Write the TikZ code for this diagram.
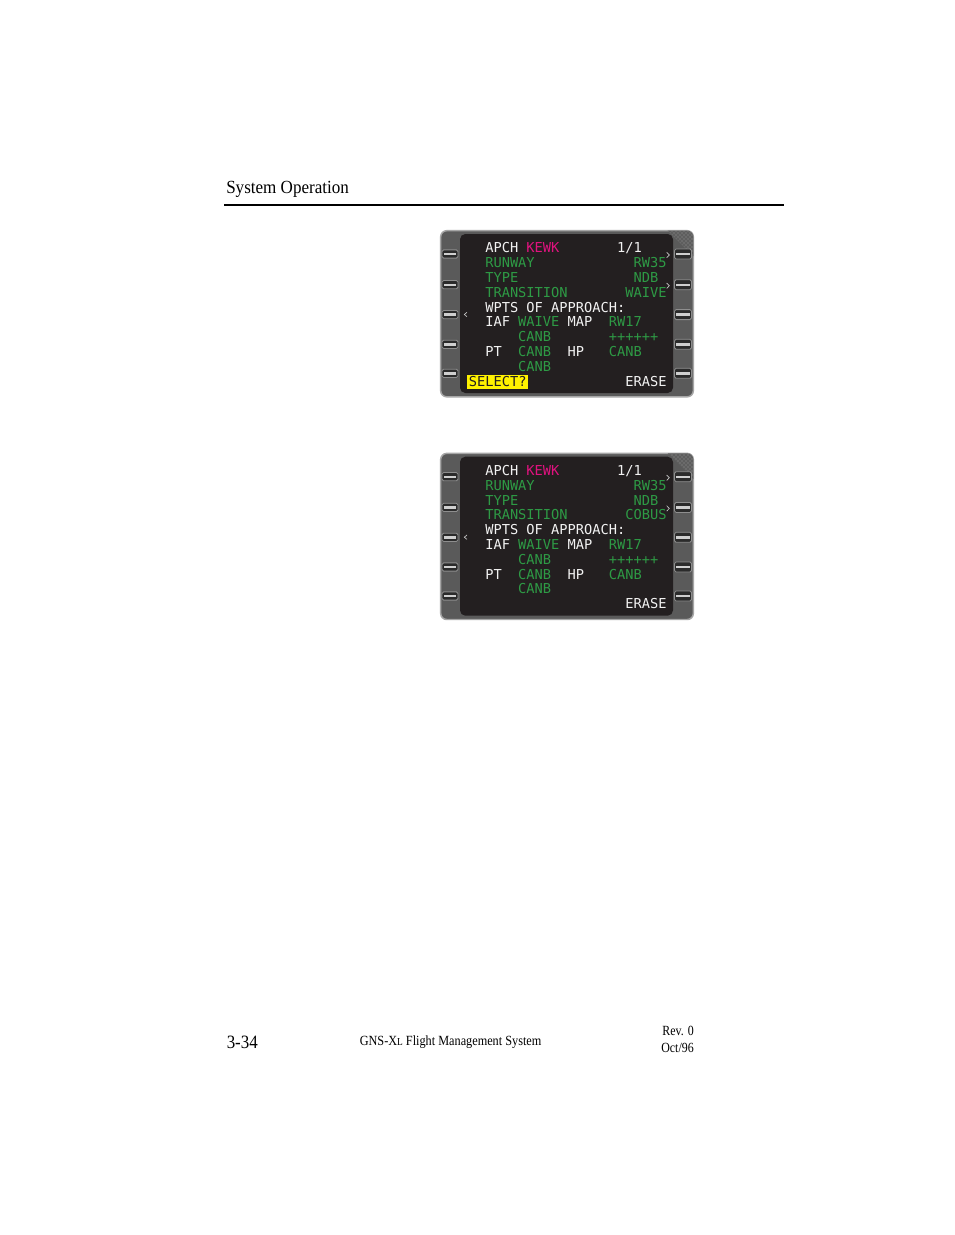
\documentclass[tikz,border=0pt]{standalone}
\usepackage{fontspec}
\setmainfont{Liberation Serif}
\newfontfamily\monof{DejaVu Sans Mono}
\usetikzlibrary{patterns}
\definecolor{fgreen}{HTML}{2E9A45}
\definecolor{fmag}{HTML}{E0127F}
\definecolor{fwhite}{HTML}{F2F2F2}
\definecolor{scrbg}{HTML}{231F20}
\definecolor{bezelc}{HTML}{5A5A5A}
\definecolor{bezeledge}{HTML}{A6A6A6}
\definecolor{hatchbg}{HTML}{5E5E5E}
\definecolor{hatchc}{HTML}{9A9A9A}
\definecolor{btnfill}{HTML}{2B2B2B}
\definecolor{btnedge}{HTML}{8E8E8E}
\definecolor{barc}{HTML}{CFCFCF}
\definecolor{chevc}{HTML}{C8C8C8}
\definecolor{selyel}{HTML}{FFF200}
\newcommand\cx[1]{485+8.24*#1}
\newcommand\ly[1]{252.8+14.8*#1}
\tikzset{
  scr/.style={anchor=base west, inner sep=0pt, font=\monof\fontsize{10.27pt}{11pt}\selectfont},
  wt/.style={scr, text=fwhite},
  gr/.style={scr, text=fgreen},
  mg/.style={scr, text=fmag},
  btnl/.style={rectangle, rounded corners=1.2pt, minimum width=12pt, minimum height=6.2pt,
    inner sep=0pt, fill=btnfill, draw=btnedge, line width=0.6pt},
  btnr/.style={btnl, minimum width=12.8pt, minimum height=7.5pt},
  barst/.style={fill=barc},
  chev/.style={draw=chevc, line width=0.5pt},
  serif/.style={inner sep=0pt, text=black},
}
\newcommand\fmsscreen[3]{%
\begin{scope}[shift={(0,#1)}]
  \filldraw[fill=bezelc, draw=bezeledge, line width=1.1pt, rounded corners=4.5pt]
    (440.7,230.7) rectangle (693.3,396.8);
  \begin{scope}
    \clip[rounded corners=4.5pt] (440.7,230.7) rectangle (693.3,396.8);
    \fill[hatchbg] (667,230) -- (694,230) -- (694,257) -- cycle;
    \fill[pattern=crosshatch dots, pattern color=hatchc] (667,230) -- (694,230) -- (694,257) -- cycle;
  \end{scope}
  \fill[scrbg, rounded corners=4pt] (460,234) rectangle (673,393);
  \foreach \i/\yy in {1/254,2/284.7,3/314.6,4/344.3,5/373.3}{
    \node[btnl] (#2L\i) at (450,\yy) {};
    \fill[barst] ([xshift=1.8pt,yshift=-0.9pt]#2L\i.west) rectangle ([xshift=-1.8pt,yshift=0.9pt]#2L\i.east);
    \node[btnr] (#2R\i) at (683,\yy) {};
    \fill[barst] ([xshift=1.8pt,yshift=-0.9pt]#2R\i.west) rectangle ([xshift=-1.8pt,yshift=0.9pt]#2R\i.east);
  }
  \draw[chev] (666.7,252.3) -- (669.3,255) -- (666.7,257.7);
  \draw[chev] (666.7,283) -- (669.3,285.7) -- (666.7,288.4);
  \draw[chev] (467,312.3) -- (464.3,314.5) -- (467,316.7);
  \node[wt] (#2apch) at ({\cx{0}},{\ly{0}}) {APCH};
  \node[mg] (#2kewk) at ({\cx{5}},{\ly{0}}) {KEWK};
  \node[wt] (#2page) at ({\cx{16}},{\ly{0}}) {1/1};
  \node[gr] (#2rwy) at ({\cx{0}},{\ly{1}}) {RUNWAY};
  \node[gr] (#2rw35) at ({\cx{18}},{\ly{1}}) {RW35};
  \node[gr] (#2type) at ({\cx{0}},{\ly{2}}) {TYPE};
  \node[gr] (#2ndb) at ({\cx{18}},{\ly{2}}) {NDB};
  \node[gr] (#2trans) at ({\cx{0}},{\ly{3}}) {TRANSITION};
  \node[gr] (#2transv) at ({\cx{17}},{\ly{3}}) {#3};
  \node[wt] (#2wpts) at ({\cx{0}},{\ly{4}}) {WPTS OF APPROACH:};
  \node[wt] (#2iaf) at ({\cx{0}},{\ly{5}}) {IAF};
  \node[gr] (#2waive) at ({\cx{4}},{\ly{5}}) {WAIVE};
  \node[wt] (#2map) at ({\cx{10}},{\ly{5}}) {MAP};
  \node[gr] (#2rw17) at ({\cx{15}},{\ly{5}}) {RW17};
  \node[gr] (#2canba) at ({\cx{4}},{\ly{6}}) {CANB};
  \node[gr] (#2plus) at ({\cx{15}},{\ly{6}}) {++++++};
  \node[wt] (#2pt) at ({\cx{0}},{\ly{7}}) {PT};
  \node[gr] (#2canbb) at ({\cx{4}},{\ly{7}}) {CANB};
  \node[wt] (#2hp) at ({\cx{10}},{\ly{7}}) {HP};
  \node[gr] (#2canbc) at ({\cx{15}},{\ly{7}}) {CANB};
  \node[gr] (#2canbd) at ({\cx{4}},{\ly{8}}) {CANB};
  \node[wt] (#2erase) at ({\cx{17}},{\ly{9}}) {ERASE};
\end{scope}}
\begin{document}
\begin{tikzpicture}[x=0.75pt,y=-0.75pt]
  \useasboundingbox (0,0) rectangle (954,1235);
  \fill[white] (0,0) rectangle (954,1235);
  % header
  \node[serif, anchor=base west] (hdr) at (226,193.3)
    {\fontsize{13.9pt}{15pt}\selectfont\scalebox{0.92}[1]{System Operation}};
  \draw[line width=1.5pt] (224,204.7) -- (784,204.7);
  % screens
  \fmsscreen{0}{a}{WAIVE}
  \fill[selyel] (467,375) rectangle (527.5,388.5);
  \node[scr, text=scrbg] (aselect) at ({\cx{(-2)}},{\ly{9}}) {SELECT?};
  \fmsscreen{222.7}{b}{COBUS}
  % footer
  \node[serif, anchor=base west] (pgno) at (226.5,1048.5)
    {\fontsize{14.1pt}{15pt}\selectfont\scalebox{0.9}[1]{3-34}};
  \node[serif, anchor=base west] (title) at (359.5,1045.5)
    {\fontsize{10.5pt}{12pt}\selectfont\scalebox{0.875}[1]{GNS-X{\fontsize{8pt}{9pt}\selectfont L} Flight Management System}};
  \node[serif, anchor=base east] (rev) at (694,1035)
    {\fontsize{10.5pt}{12pt}\selectfont\scalebox{0.85}[1]{Rev. 0}};
  \node[serif, anchor=base east] (date) at (694,1052)
    {\fontsize{10.5pt}{12pt}\selectfont\scalebox{0.85}[1]{Oct/96}};
\end{tikzpicture}
\end{document}
